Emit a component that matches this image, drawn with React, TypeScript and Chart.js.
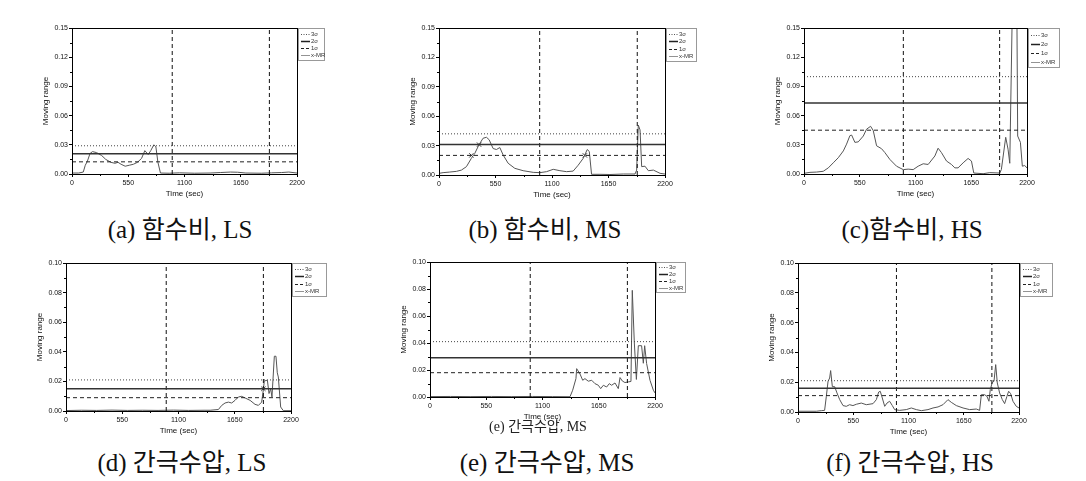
import React, { useEffect, useRef } from "react";
import { Chart, registerables } from "chart.js";

Chart.register(...registerables);

// ---------- data ----------
const xTicks = [0, 550, 1100, 1650, 2200];
const yTicksMoisture = [0, 0.03, 0.06, 0.09, 0.12, 0.15];
const yTicksPore = [0, 0.02, 0.04, 0.06, 0.08, 0.1];
const phaseLines = [980, 1930];
const legendLabels = ["3σ", "2σ", "1σ", "x-MR"];

// (a) 함수비, LS
const aTime = [0, 65, 110, 130, 150, 176, 200, 240, 290, 330, 380, 420, 450, 480, 520, 560, 600, 640, 680, 712, 745, 770, 800, 820, 840, 865, 950, 1050, 1200, 1350, 1450, 1550, 1620, 1700, 1850, 1950, 2050, 2120, 2200];
const aMR = [0.001, 0.001, 0.002, 0.009, 0.013, 0.021, 0.023, 0.022, 0.019, 0.015, 0.012, 0.011, 0.012, 0.010, 0.008, 0.009, 0.010, 0.012, 0.016, 0.024, 0.020, 0.024, 0.030, 0.028, 0.012, 0.001, 0.0008, 0.0012, 0.0008, 0.001, 0.0015, 0.002, 0.0018, 0.001, 0.0008, 0.0012, 0.0015, 0.002, 0.001];
const aSigma = [0.0125, 0.0208, 0.029];

// (b) 함수비, MS
const bTime = [0, 40, 104, 169, 218, 267, 315, 348, 390, 429, 462, 488, 527, 559, 592, 624, 673, 738, 819, 917, 982, 1047, 1112, 1177, 1242, 1306, 1355, 1404, 1443, 1463, 1485, 1567, 1664, 1794, 1908, 1924, 1940, 1957, 1973, 2005, 2038, 2087, 2152, 2200];
const bMR = [0.0017, 0.0024, 0.003, 0.0037, 0.005, 0.0085, 0.017, 0.022, 0.031, 0.0375, 0.0385, 0.036, 0.027, 0.026, 0.028, 0.0205, 0.012, 0.0068, 0.0044, 0.0027, 0.0024, 0.0034, 0.0058, 0.0044, 0.0034, 0.004, 0.010, 0.017, 0.026, 0.024, 0.0007, 0.0007, 0.0005, 0.001, 0.001, 0.005, 0.051, 0.046, 0.0085, 0.009, 0.0044, 0.005, 0.0017, 0.001];
const bSigma = [0.020, 0.031, 0.042];
const bCrossTime = [315, 390, 1420];
const bCrossMR = [0.020, 0.031, 0.020];

// (c) 함수비, HS
const cTime = [0, 59, 125, 190, 240, 289, 338, 388, 420, 453, 470, 502, 535, 585, 617, 657, 683, 716, 765, 798, 847, 913, 979, 1028, 1077, 1126, 1176, 1225, 1291, 1323, 1356, 1406, 1455, 1488, 1520, 1570, 1619, 1652, 1675, 1767, 1833, 1931, 1947, 1990, 2013, 2030, 2060, 2098, 2108, 2135, 2154, 2177, 2200];
const cMR = [0.0007, 0.0017, 0.002, 0.0028, 0.0063, 0.0115, 0.0167, 0.0237, 0.0307, 0.0394, 0.040, 0.0325, 0.033, 0.039, 0.046, 0.049, 0.0447, 0.029, 0.026, 0.022, 0.015, 0.008, 0.0045, 0.005, 0.0045, 0.008, 0.0105, 0.0098, 0.0185, 0.0265, 0.022, 0.0133, 0.0098, 0.0063, 0.0063, 0.0115, 0.016, 0.0133, 0.001, 0.0003, 0.0014, 0.001, 0.0045, 0.0377, 0.0255, 0.011, 0.2, 0.2, 0.039, 0.0325, 0.008, 0.0087, 0.0063];
const cSigma = [0.045, 0.073, 0.100];

// (d) 간극수압, LS
const dTime = [0, 150, 300, 450, 600, 750, 900, 1050, 1200, 1350, 1409, 1490, 1523, 1555, 1588, 1620, 1653, 1686, 1718, 1751, 1800, 1848, 1881, 1913, 1930, 1939, 1969, 1985, 2001, 2014, 2037, 2053, 2066, 2076, 2099, 2125, 2200];
const dMR = [0.0003, 0.0005, 0.0004, 0.0006, 0.0004, 0.0005, 0.0004, 0.0006, 0.0004, 0.0005, 0.0005, 0.001, 0.0038, 0.0054, 0.006, 0.0054, 0.0072, 0.0095, 0.0099, 0.0088, 0.0072, 0.0045, 0.0038, 0.006, 0.0145, 0.0203, 0.0208, 0.0118, 0.015, 0.0095, 0.037, 0.037, 0.0258, 0.023, 0.0027, 0.0002, 0.0002];
const dSigma = [0.009, 0.015, 0.021];
const dCrossTime = [1930];
const dCrossMR = [0.015];

// (e) 간극수압, MS
const eTime = [0, 200, 400, 600, 800, 1000, 1200, 1369, 1395, 1427, 1434, 1467, 1493, 1515, 1548, 1581, 1613, 1646, 1669, 1695, 1727, 1753, 1776, 1809, 1841, 1858, 1880, 1906, 1939, 1965, 1978, 1998, 2018, 2037, 2069, 2086, 2099, 2118, 2151, 2184, 2200];
const eMR = [0.0003, 0.0004, 0.0003, 0.0004, 0.0003, 0.0004, 0.0003, 0.0002, 0.005, 0.0136, 0.021, 0.017, 0.0124, 0.0136, 0.0117, 0.0124, 0.0099, 0.0087, 0.0062, 0.0087, 0.0074, 0.0099, 0.0087, 0.0104, 0.0062, 0.0144, 0.0119, 0.0107, 0.0112, 0.0115, 0.079, 0.040, 0.013, 0.038, 0.038, 0.025, 0.038, 0.0248, 0.0124, 0.005, 0.003];
const eSigma = [0.018, 0.029, 0.041];

// (f) 간극수압, HS
const fTime = [0, 182, 232, 265, 282, 299, 315, 325, 342, 365, 388, 415, 448, 481, 514, 547, 581, 630, 680, 747, 780, 803, 819, 839, 863, 886, 912, 939, 962, 1012, 1078, 1128, 1178, 1228, 1294, 1344, 1394, 1443, 1493, 1526, 1576, 1643, 1709, 1775, 1808, 1825, 1858, 1881, 1901, 1914, 1934, 1951, 1968, 1984, 2007, 2034, 2057, 2080, 2097, 2117, 2140, 2173, 2200];
const fMR = [0.0005, 0.0005, 0.0009, 0.0011, 0.0105, 0.0206, 0.0228, 0.0278, 0.017, 0.017, 0.0128, 0.0083, 0.0043, 0.0038, 0.0049, 0.0043, 0.0052, 0.006, 0.0049, 0.0056, 0.0083, 0.0134, 0.0139, 0.0094, 0.0038, 0.006, 0.0072, 0.0043, 0.0016, 0.0011, 0.0016, 0.0027, 0.0016, 0.0009, 0.0016, 0.0027, 0.0034, 0.0049, 0.0083, 0.0065, 0.0043, 0.0027, 0.0016, 0.002, 0.0011, 0.0116, 0.0116, 0.0105, 0.0072, 0.015, 0.0199, 0.0206, 0.0318, 0.0195, 0.0128, 0.0083, 0.0056, 0.0105, 0.0139, 0.0123, 0.0072, 0.0038, 0.0027];
const fSigma = [0.011, 0.016, 0.021];

const captions = ["(a) 함수비, LS", "(b) 함수비, MS", "(c)함수비, HS", "(d) 간극수압, LS", "(e) 간극수압, MS", "(f) 간극수압, HS"];
const innerCaption = "(e) 간극수압, MS";

// ---------- layout ----------
const AXIS_W = 31;
const TOP_PAD = 8;
const RIGHT_PAD = 42;
const XAXIS_H = 25;
const BOTTOM_PAD = 2;
const FONT = '"Liberation Sans", Arial, sans-serif';

type PanelDef = {
  time: number[]; mr: number[]; sigma: number[]; yTicks: number[];
  crossT?: number[]; crossV?: number[];
  left: number; top: number; w: number; h: number; lw: number; lh: number;
};

const panels: PanelDef[] = [
  { time: aTime, mr: aMR, sigma: aSigma, yTicks: yTicksMoisture, left: 72, top: 28, w: 225, h: 146, lw: 27, lh: 33 },
  { time: bTime, mr: bMR, sigma: bSigma, yTicks: yTicksMoisture, crossT: bCrossTime, crossV: bCrossMR, left: 439, top: 28, w: 226, h: 147, lw: 31, lh: 34 },
  { time: cTime, mr: cMR, sigma: cSigma, yTicks: yTicksMoisture, left: 804, top: 28, w: 223, h: 146, lw: 32, lh: 40 },
  { time: dTime, mr: dMR, sigma: dSigma, yTicks: yTicksPore, crossT: dCrossTime, crossV: dCrossMR, left: 66, top: 263, w: 225, h: 148, lw: 35, lh: 34 },
  { time: eTime, mr: eMR, sigma: eSigma, yTicks: yTicksPore, left: 430, top: 262, w: 225, h: 135, lw: 30, lh: 31 },
  { time: fTime, mr: fMR, sigma: fSigma, yTicks: yTicksPore, left: 798, top: 263, w: 221, h: 149, lw: 33, lh: 34 },
];

const captionPos = [
  { x: 180, y: 230 }, { x: 545, y: 230 }, { x: 912, y: 230 },
  { x: 182, y: 463 }, { x: 547, y: 463 }, { x: 910, y: 463 },
];

// ---------- plugins ----------
const framePlugin = {
  id: "frameMinor",
  afterDraw(chart: any) {
    const { ctx, chartArea: a, scales } = chart;
    ctx.save();
    ctx.strokeStyle = "#000";
    ctx.lineWidth = 1;
    ctx.setLineDash([]);
    ctx.strokeRect(Math.round(a.left) + 0.5, Math.round(a.top) + 0.5, Math.round(a.right - a.left), Math.round(a.bottom - a.top));
    ctx.beginPath();
    for (let i = 0; i < xTicks.length - 1; i++) {
      const px = Math.round(scales.x.getPixelForValue((xTicks[i] + xTicks[i + 1]) / 2)) + 0.5;
      ctx.moveTo(px, a.bottom);
      ctx.lineTo(px, a.bottom + 2);
    }
    const yt = scales.y.ticks.map((t: any) => t.value);
    for (let i = 0; i < yt.length - 1; i++) {
      const py = Math.round(scales.y.getPixelForValue((yt[i] + yt[i + 1]) / 2)) + 0.5;
      ctx.moveTo(a.left, py);
      ctx.lineTo(a.left - 2, py);
    }
    ctx.stroke();
    ctx.restore();
  },
};

const legendPlugin = {
  id: "mrLegend",
  afterDraw(chart: any, _args: any, opts: any) {
    const { ctx, chartArea: a } = chart;
    const x = Math.round(a.right) + 1;
    const y = Math.round(a.top);
    const w = opts.w;
    const h = opts.h;
    ctx.save();
    ctx.fillStyle = "#fff";
    ctx.fillRect(x, y, w, h);
    ctx.strokeStyle = "#999";
    ctx.lineWidth = 1;
    ctx.strokeRect(x + 0.5, y + 0.5, w - 1, h - 1);
    const styles = [
      { dash: [1, 1.5], width: 1, color: "#555" },
      { dash: [], width: 1.5, color: "#222" },
      { dash: [3, 2], width: 1, color: "#222" },
      { dash: [], width: 0.8, color: "#777" },
    ];
    ctx.font = `6px ${FONT}`;
    ctx.textBaseline = "middle";
    ctx.textAlign = "left";
    legendLabels.forEach((lab, i) => {
      const yy = Math.round(y + 2 + ((h - 4) * (i + 0.5)) / 4) + 0.5;
      const s = styles[i];
      ctx.beginPath();
      ctx.setLineDash(s.dash);
      ctx.lineWidth = s.width;
      ctx.strokeStyle = s.color;
      ctx.moveTo(x + 3, yy);
      ctx.lineTo(x + 12, yy);
      ctx.stroke();
      ctx.setLineDash([]);
      ctx.fillStyle = "#333";
      ctx.fillText(lab, x + 13, yy);
    });
    ctx.restore();
  },
};

function buildConfig(p: PanelDef): any {
  const yMax = p.yTicks[p.yTicks.length - 1];
  const hline = (v: number) => [{ x: 0, y: v }, { x: 2200, y: v }];
  const vline = (t: number) => [{ x: t, y: 0 }, { x: t, y: yMax }];
  const [s1, s2, s3] = p.sigma;
  const datasets: any[] = [
    { label: "3σ", data: hline(s3), borderColor: "#444", borderWidth: 1, borderDash: [1, 2], pointRadius: 0 },
    { label: "2σ", data: hline(s2), borderColor: "#333", borderWidth: 1.5, pointRadius: 0 },
    { label: "1σ", data: hline(s1), borderColor: "#222", borderWidth: 1, borderDash: [4, 3], pointRadius: 0 },
    ...phaseLines.map((t) => ({ label: "", data: vline(t), borderColor: "#111", borderWidth: 1, borderDash: [4, 3], pointRadius: 0 })),
    { label: "x-MR", data: p.time.map((t, i) => ({ x: t, y: p.mr[i] })), borderColor: "#555", borderWidth: 1, pointRadius: 0, tension: 0 },
  ];
  if (p.crossT && p.crossV) {
    datasets.push({
      label: "",
      data: p.crossT.map((t, i) => ({ x: t, y: p.crossV![i] })),
      showLine: false,
      pointStyle: "crossRot",
      pointRadius: 3,
      borderColor: "#333",
      borderWidth: 1,
    });
  }
  return {
    type: "line",
    data: { datasets },
    plugins: [framePlugin, legendPlugin],
    options: {
      animation: false,
      responsive: false,
      maintainAspectRatio: false,
      events: [],
      layout: { padding: { top: TOP_PAD, right: RIGHT_PAD, bottom: BOTTOM_PAD, left: 0 } },
      plugins: {
        legend: { display: false },
        tooltip: { enabled: false },
        mrLegend: { w: p.lw, h: p.lh },
      },
      scales: {
        x: {
          type: "linear",
          min: 0,
          max: 2200,
          afterBuildTicks: (s: any) => { s.ticks = xTicks.map((v) => ({ value: v })); },
          afterFit: (s: any) => { s.height = XAXIS_H; },
          ticks: { font: { family: FONT, size: 7 }, color: "#111", padding: 2, maxRotation: 0, autoSkip: false, callback: (v: any) => String(v) },
          grid: { drawOnChartArea: false, drawTicks: true, tickLength: 3, color: "#000", tickColor: "#000" },
          border: { display: true, color: "#000", width: 1 },
          title: { display: true, text: "Time (sec)", font: { family: FONT, size: 8 }, color: "#111", padding: 0 },
        },
        y: {
          type: "linear",
          min: 0,
          max: yMax,
          afterBuildTicks: (s: any) => { s.ticks = p.yTicks.map((v) => ({ value: v })); },
          afterFit: (s: any) => { s.width = AXIS_W; },
          ticks: { font: { family: FONT, size: 7 }, color: "#111", padding: 1, autoSkip: false, callback: (v: any) => Number(v).toFixed(2) },
          grid: { drawOnChartArea: false, drawTicks: true, tickLength: 3, color: "#000", tickColor: "#000" },
          border: { display: true, color: "#000", width: 1 },
          title: { display: true, text: "Moving range", font: { family: FONT, size: 8 }, color: "#111", padding: 0 },
        },
      },
    },
  };
}

function Panel({ p }: { p: PanelDef }) {
  const ref = useRef<HTMLCanvasElement>(null);
  const W = AXIS_W + p.w + RIGHT_PAD;
  const H = TOP_PAD + p.h + XAXIS_H + BOTTOM_PAD;
  useEffect(() => {
    const chart = new Chart(ref.current as HTMLCanvasElement, buildConfig(p));
    return () => chart.destroy();
  }, [p]);
  return (
    <canvas
      ref={ref}
      width={W}
      height={H}
      style={{ position: "absolute", left: p.left - AXIS_W, top: p.top - TOP_PAD, width: W, height: H }}
    />
  );
}

const captionFont = '"Liberation Serif", "Noto Sans CJK KR", serif';

export default function App() {
  return (
    <div style={{ position: "absolute", left: 0, top: 0, width: 1086, height: 481, background: "#fff", overflow: "hidden" }}>
      {panels.map((p, i) => (
        <Panel key={i} p={p} />
      ))}
      {captions.map((c, i) => (
        <div
          key={"c" + i}
          style={{
            position: "absolute",
            left: captionPos[i].x - 150,
            top: captionPos[i].y - 15,
            width: 300,
            height: 30,
            lineHeight: "30px",
            textAlign: "center",
            fontFamily: captionFont,
            fontSize: 25,
            color: "#111",
            whiteSpace: "nowrap",
          }}
        >
          {c}
        </div>
      ))}
      <div
        style={{
          position: "absolute",
          left: 538 - 80,
          top: 427 - 8,
          width: 160,
          height: 16,
          lineHeight: "16px",
          textAlign: "center",
          fontFamily: captionFont,
          fontSize: 14,
          color: "#222",
          whiteSpace: "nowrap",
        }}
      >
        {innerCaption}
      </div>
    </div>
  );
}
